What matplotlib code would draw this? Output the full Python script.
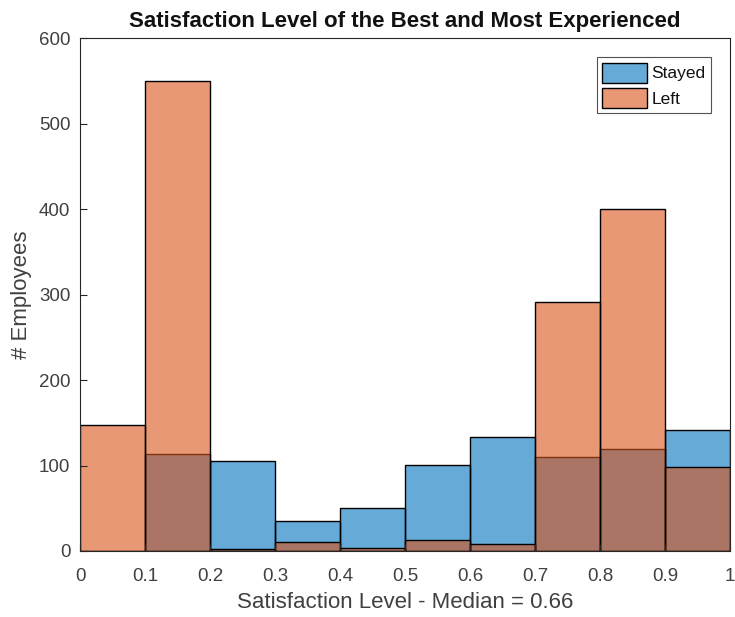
import matplotlib
matplotlib.use("Agg")
import matplotlib.pyplot as plt
import numpy as np
from matplotlib.patches import Patch

plt.rcParams['font.family'] = ['Liberation Sans', 'DejaVu Sans']

bin_edges = [0.0, 0.1, 0.2, 0.3, 0.4, 0.5, 0.6, 0.7, 0.8, 0.9, 1.0]
stayed = [0, 114, 105, 35, 50, 101, 133, 110, 119, 141]
left = [147, 550, 2, 11, 3, 13, 8, 291, 400, 98]
xticks = [0, 0.1, 0.2, 0.3, 0.4, 0.5, 0.6, 0.7, 0.8, 0.9, 1]
xtick_labels = ['0', '0.1', '0.2', '0.3', '0.4', '0.5', '0.6', '0.7', '0.8', '0.9', '1']
yticks = [0, 100, 200, 300, 400, 500, 600]

blue = (0, 0.447, 0.741)
orange = (0.851, 0.325, 0.098)
txt = '#404040'

fig = plt.figure(figsize=(7.35, 6.17), dpi=100)
ax = fig.add_axes([0.109, 0.107, 0.884, 0.831])

edges = np.array(bin_edges)
widths = np.diff(edges)
ax.bar(edges[:-1], stayed, width=widths, align='edge', color=blue, alpha=0.6,
       edgecolor='none')
ax.bar(edges[:-1], stayed, width=widths, align='edge', fill=False,
       edgecolor='black', linewidth=1.0)
ax.bar(edges[:-1], left, width=widths, align='edge', color=orange, alpha=0.6,
       edgecolor='none')
ax.bar(edges[:-1], left, width=widths, align='edge', fill=False,
       edgecolor='black', linewidth=1.0)

ax.set_xlim(0, 1)
ax.set_ylim(0, 600)
ax.set_xticks(xticks)
ax.set_xticklabels(xtick_labels)
ax.set_yticks(yticks)
ax.tick_params(direction='in', length=5, labelsize=13.5, labelcolor=txt,
               color='#262626', top=False, right=False)
ax.tick_params(axis='x', pad=12)
ax.tick_params(axis='y', pad=7)
for s in ax.spines.values():
    s.set_color('#262626')
    s.set_linewidth(0.8)

ax.set_title('Satisfaction Level of the Best and Most Experienced',
             fontsize=16, fontweight='bold', pad=8, color='#111111')
ax.set_xlabel('Satisfaction Level - Median = 0.66', fontsize=16, color=txt,
              labelpad=5)
ax.set_ylabel('# Employees', fontsize=16, color=txt, labelpad=5)

handles = [Patch(facecolor=(*blue, 0.6), edgecolor='black', linewidth=1),
           Patch(facecolor=(*orange, 0.6), edgecolor='black', linewidth=1)]
leg = ax.legend(handles, ['Stayed', 'Left'], loc='upper right', fontsize=12.5,
                frameon=True, fancybox=False, edgecolor='#262626',
                handlelength=2.6, handleheight=1.4, handletextpad=0.25,
                borderpad=0.3, labelspacing=0.3, borderaxespad=1.1)
leg.get_frame().set_linewidth(0.8)
for t in leg.get_texts():
    t.set_color('#111111')

fig.savefig('out.png', dpi=100)
